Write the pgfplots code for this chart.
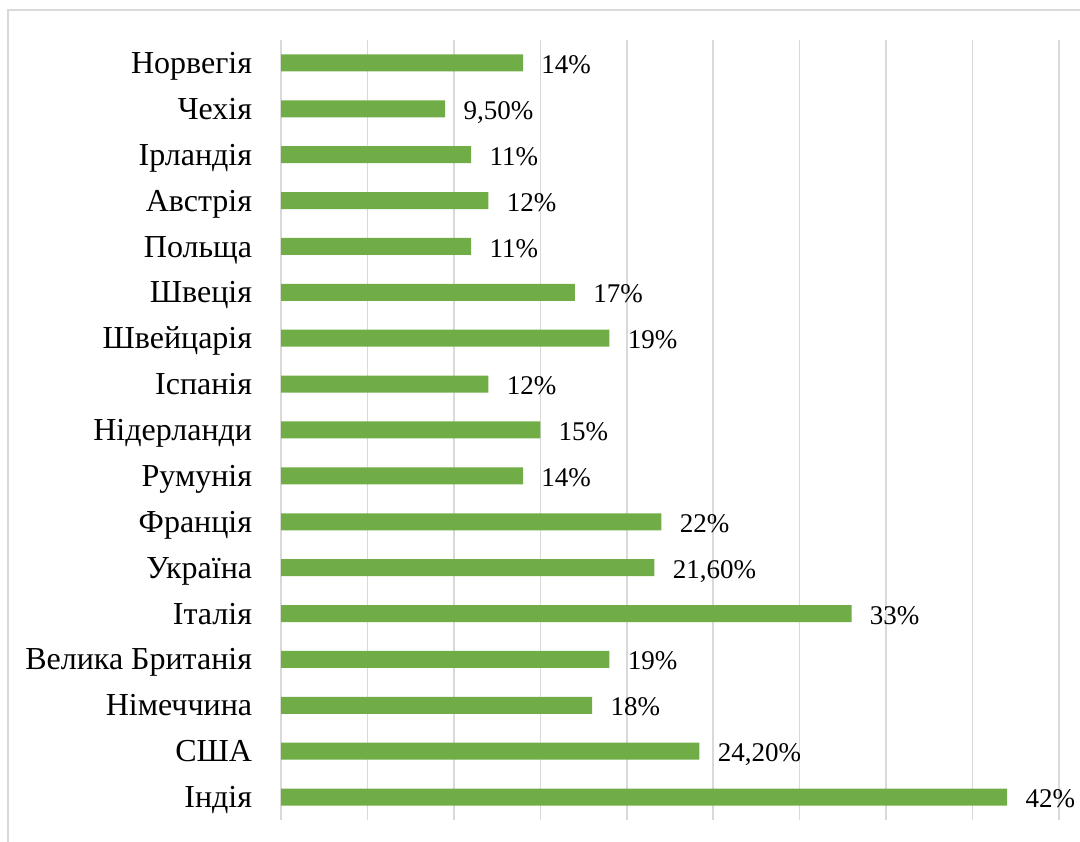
\documentclass[border=0pt]{standalone}
\usepackage{fontspec}
\setmainfont{Liberation Serif}
\usepackage{pgfplots}
\pgfplotsset{compat=1.18}
\definecolor{bargreen}{HTML}{70AD47}
\definecolor{gridgray}{HTML}{D9D9D9}
\begin{document}
\fontsize{16}{19}\selectfont
\begin{tikzpicture}
\useasboundingbox (0,0) rectangle (540pt,420.5pt);
\draw[gridgray, line width=0.75pt] (4pt,-20pt) -- (4pt,415.5pt) -- (560pt,415.5pt);
\begin{axis}[
  at={(140.5pt,10.5pt)}, anchor=south west,
  scale only axis, width=389pt, height=390pt,
  xbar, bar width=8.5pt,
  xmin=0, xmax=45, ymin=-0.5, ymax=16.5,
  xtick={0,5,...,45}, xticklabels={},
  ytick={0,...,16},
  yticklabels={Індія,США,Німеччина,Велика Британія,Італія,Україна,Франція,Румунія,Нідерланди,Іспанія,Швейцарія,Швеція,Польща,Австрія,Ірландія,Чехія,Норвегія},
  y tick label style={font=\fontsize{16}{19}\selectfont, inner sep=0pt, anchor=east, text height=0.66em, text depth=0pt},
  yticklabel shift=10pt,
  axis line style={draw=none},
  tick style={draw=none},
  xmajorgrids, major grid style={color=gridgray, line width=0.75pt},
  point meta=explicit symbolic,
  nodes near coords,
  every node near coord/.append style={font=\fontsize{13.5}{16}\selectfont, anchor=west, inner sep=0pt, xshift=9pt, text height=0.66em, text depth=0pt, text=black},
]
\addplot[fill=bargreen, draw=none] coordinates {
  (42,0) [42\%]
  (24.2,1) [{24,20\%}]
  (18,2) [18\%]
  (19,3) [19\%]
  (33,4) [33\%]
  (21.6,5) [{21,60\%}]
  (22,6) [22\%]
  (14,7) [14\%]
  (15,8) [15\%]
  (12,9) [12\%]
  (19,10) [19\%]
  (17,11) [17\%]
  (11,12) [11\%]
  (12,13) [12\%]
  (11,14) [11\%]
  (9.5,15) [{9,50\%}]
  (14,16) [14\%]
};
\end{axis}
\end{tikzpicture}
\end{document}
